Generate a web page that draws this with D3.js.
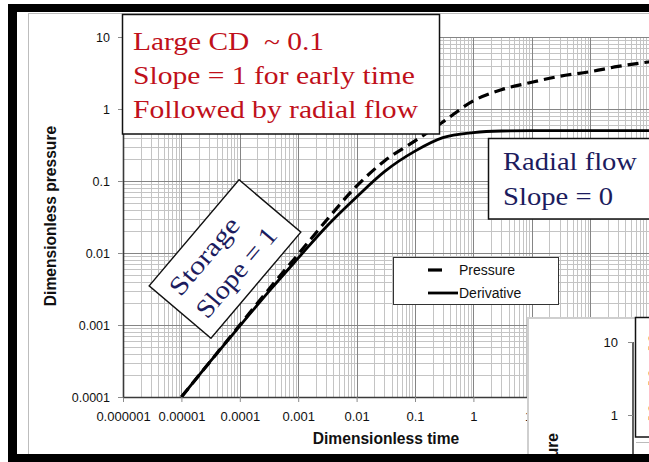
<!DOCTYPE html>
<html><head><meta charset="utf-8">
<script src="https://cdn.jsdelivr.net/npm/d3@7"></script>
<style>
html,body{margin:0;padding:0;background:#fff;overflow:hidden}
svg{display:block}
.serif{font-family:"Liberation Serif","Times New Roman",serif;white-space:pre}
.sans{font-family:"Liberation Sans",Arial,sans-serif}
</style></head><body>
<svg id="chart" width="649" height="462"></svg>
<script>
// Dimensionless time and the two type-curve series (wellbore storage + radial flow)
const timeD       = [1e-5, 3e-5, 1e-4, 3e-4, 1e-3, 3e-3, 1e-2, 3e-2, 0.1, 0.3, 1, 3, 10, 30, 100, 300, 1000, 3000];
const pressureD   = [1e-4, 3e-4, 1e-3, 3e-3, 0.0096, 0.028, 0.085, 0.19, 0.36, 0.66, 1.3, 1.85, 2.35, 2.85, 3.3, 3.9, 4.5, 5.0];
const derivativeD = [1e-4, 3e-4, 9.7e-4, 2.8e-3, 8.5e-3, 0.023, 0.06, 0.135, 0.26, 0.4, 0.47, 0.495, 0.5, 0.5, 0.5, 0.5, 0.5, 0.5];

const xTickValues = [1e-6, 1e-5, 1e-4, 1e-3, 1e-2, 0.1, 1, 10];
const xTickLabels = ["0.000001", "0.00001", "0.0001", "0.001", "0.01", "0.1", "1", "10"];
const yTickValues = [1e-4, 1e-3, 1e-2, 0.1, 1, 10];
const yTickLabels = ["0.0001", "0.001", "0.01", "0.1", "1", "10"];
const seriesNames = ["Pressure", "Derivative"];

const noteTop     = ["Large CD  ~ 0.1", "Slope = 1 for early time", "Followed by radial flow"];
const noteStorage = ["Storage", "Slope = 1"];
const noteRadial  = ["Radial flow", "Slope = 0"];
const insetNote   = ["Small CD", "Slope = 1", "Skin"];

const svg = d3.select("#chart");
svg.append("rect").attr("width", 649).attr("height", 462).attr("fill", "#fff");

// chart area
svg.append("rect").attr("x", 28.5).attr("y", 13.5).attr("width", 700).attr("height", 500)
  .attr("fill", "#fff").attr("stroke", "#bdbdbd").attr("stroke-width", 1);

const x = d3.scaleLog().domain([1e-6, 1e4]).range([123, 707]);
const y = d3.scaleLog().domain([1e-4, 10]).range([397, 37]);

const defs = svg.append("defs");
defs.append("clipPath").attr("id", "plotClip").append("rect")
  .attr("x", 123).attr("y", 37).attr("width", 600).attr("height", 360);

// log grid
const xGrid = d3.range(-6, 4).flatMap(e => d3.range(1, 10).map(k => ({v: k * Math.pow(10, e), major: k === 1})));
const yGrid = d3.range(-4, 1).flatMap(e => d3.range(1, 10).map(k => ({v: k * Math.pow(10, e), major: k === 1}))).concat([{v: 10, major: true}]);
const grid = svg.append("g").attr("clip-path", "url(#plotClip)");
const drawGrid = (major, color) => {
  grid.selectAll(null).data(xGrid.filter(d => d.major === major)).join("line")
    .attr("x1", d => Math.round(x(d.v)) + 0.5).attr("x2", d => Math.round(x(d.v)) + 0.5)
    .attr("y1", 37).attr("y2", 397).attr("stroke", color).attr("stroke-width", 1);
  grid.selectAll(null).data(yGrid.filter(d => d.major === major)).join("line")
    .attr("y1", d => Math.round(y(d.v)) + 0.5).attr("y2", d => Math.round(y(d.v)) + 0.5)
    .attr("x1", 123).attr("x2", 720).attr("stroke", color).attr("stroke-width", 1);
};
drawGrid(false, "#c4c4c4");
drawGrid(true, "#858585");

// axes
const gx = svg.append("g").attr("transform", "translate(0,397)")
  .call(d3.axisBottom(x).tickValues(xTickValues).tickFormat((d, i) => xTickLabels[i])
    .tickSize(5).tickSizeOuter(0).tickPadding(10));
const gy = svg.append("g").attr("transform", "translate(123,0)")
  .call(d3.axisLeft(y).tickValues(yTickValues).tickFormat((d, i) => yTickLabels[i])
    .tickSize(5).tickSizeOuter(0).tickPadding(8));
[gx, gy].forEach(g => {
  g.select(".domain").attr("stroke", "#3a3a3a").attr("stroke-width", 1.6);
  g.selectAll(".tick line").attr("stroke", "#8a8a8a");
  g.selectAll(".tick text").attr("fill", "#111").attr("class", "sans");
});
gx.selectAll(".tick text").attr("font-size", 13);
gy.selectAll(".tick text").attr("font-size", 12.5);

svg.append("text").attr("class", "sans").attr("x", 386).attr("y", 444)
  .attr("text-anchor", "middle").attr("font-size", 15.6).attr("font-weight", "bold")
  .attr("fill", "#111").text("Dimensionless time");
svg.append("text").attr("class", "sans").attr("transform", "translate(56,216) rotate(-90)")
  .attr("text-anchor", "middle").attr("font-size", 15.6).attr("font-weight", "bold")
  .attr("fill", "#111").text("Dimensionless pressure");

// curves
const pts = vals => timeD.map((t, i) => ({t, v: vals[i]}));
const line = d3.line().x(d => x(d.t)).y(d => y(d.v)).curve(d3.curveMonotoneX);
const curves = svg.append("g").attr("clip-path", "url(#plotClip)");
curves.append("path").datum(pts(derivativeD)).attr("d", line)
  .attr("fill", "none").attr("stroke", "#000").attr("stroke-width", 2.8);
curves.append("path").datum(pts(pressureD)).attr("d", line)
  .attr("fill", "none").attr("stroke", "#000").attr("stroke-width", 3.2)
  .attr("stroke-dasharray", "11,6");

// legend
const lg = svg.append("g");
lg.append("rect").attr("x", 393.5).attr("y", 257.5).attr("width", 165).attr("height", 47)
  .attr("fill", "#fff").attr("stroke", "#333").attr("stroke-width", 1);
lg.append("line").attr("x1", 428).attr("x2", 442).attr("y1", 270).attr("y2", 270)
  .attr("stroke", "#000").attr("stroke-width", 3.2);
lg.append("line").attr("x1", 428).attr("x2", 458).attr("y1", 293).attr("y2", 293)
  .attr("stroke", "#000").attr("stroke-width", 2.8);
lg.selectAll(".lt").data(seriesNames).join("text").attr("class", "sans")
  .attr("x", 459).attr("y", (d, i) => 275 + i * 23).attr("font-size", 14).attr("fill", "#111").text(d => d);

// storage note (rotated)
const sg = svg.append("g").attr("transform", "translate(225,259) rotate(-49.7)");
sg.append("rect").attr("x", -69.5).attr("y", -40.5).attr("width", 139).attr("height", 81)
  .attr("fill", "#fff").attr("stroke", "#111").attr("stroke-width", 1.4);
const storageW = [94, 110];
sg.selectAll("text").data(noteStorage).join("text").attr("class", "serif")
  .attr("x", -58).attr("y", (d, i) => -9 + i * 35).attr("font-size", 26).attr("fill", "#1c1c5e")
  .attr("textLength", (d, i) => storageW[i]).attr("lengthAdjust", "spacingAndGlyphs").text(d => d);

// top-left note
svg.append("rect").attr("x", 122.5).attr("y", 14.5).attr("width", 317).attr("height", 119.5)
  .attr("fill", "#fff").attr("stroke", "#111").attr("stroke-width", 1.5);
const topW = [191, 282, 285];
svg.selectAll(".nt").data(noteTop).join("text").attr("class", "serif")
  .attr("x", 133).attr("y", (d, i) => 50 + i * 34).attr("font-size", 26).attr("fill", "#c0101a")
  .attr("textLength", (d, i) => topW[i]).attr("lengthAdjust", "spacingAndGlyphs").text(d => d);

// radial flow note
svg.append("rect").attr("x", 488.5).attr("y", 138.5).attr("width", 200).attr("height", 80.5)
  .attr("fill", "#fff").attr("stroke", "#111").attr("stroke-width", 1.5);
const radialW = [134, 110];
svg.selectAll(".nr").data(noteRadial).join("text").attr("class", "serif")
  .attr("x", 503).attr("y", (d, i) => 170 + i * 35).attr("font-size", 25).attr("fill", "#1c1c5e")
  .attr("textLength", (d, i) => radialW[i]).attr("lengthAdjust", "spacingAndGlyphs").text(d => d);

// second chart peeking in at the lower right
const ins = svg.append("g");
ins.append("rect").attr("x", 528).attr("y", 318).attr("width", 140).attr("height", 160)
  .attr("fill", "#fff").attr("stroke", "#cfcfcf").attr("stroke-width", 2);
const yi = d3.scaleLog().domain([1, 10]).range([415, 342]);
const gi = ins.append("g").attr("transform", "translate(633,0)")
  .call(d3.axisLeft(yi).tickValues([1, 10]).tickFormat(d3.format("d")).tickSize(5).tickSizeOuter(0).tickPadding(10));
gi.select(".domain").attr("stroke", "#3a3a3a").attr("stroke-width", 1.6).attr("d", "M0,342V470");
gi.selectAll(".tick line").attr("stroke", "#8a8a8a");
gi.selectAll(".tick text").attr("class", "sans").attr("font-size", 13).attr("fill", "#111");
ins.append("text").attr("class", "sans").attr("transform", "translate(558,433) rotate(-90)")
  .attr("text-anchor", "end").attr("font-size", 15.6).attr("font-weight", "bold")
  .attr("fill", "#111").text("Dimensionless pressure");
ins.append("line").attr("x1", 636).attr("x2", 649).attr("y1", 442.5).attr("y2", 442.5).attr("stroke", "#bbb");
ins.append("rect").attr("x", 635.5).attr("y", 317.5).attr("width", 40).attr("height", 119.5)
  .attr("fill", "#fff").attr("stroke", "#111").attr("stroke-width", 1.5);
ins.selectAll(".ni").data(insetNote).join("text").attr("class", "serif")
  .attr("x", 647).attr("y", (d, i) => 351 + i * 35).attr("font-size", 26).attr("fill", "#c0101a").text(d => d);

// outer black frame
const frame = svg.append("g").attr("fill", "#000");
frame.append("rect").attr("x", 8).attr("y", 4).attr("width", 9).attr("height", 458);
frame.append("rect").attr("x", 8).attr("y", 4).attr("width", 641).attr("height", 8);
frame.append("rect").attr("x", 8).attr("y", 454).attr("width", 641).attr("height", 8);
</script>
</body></html>
